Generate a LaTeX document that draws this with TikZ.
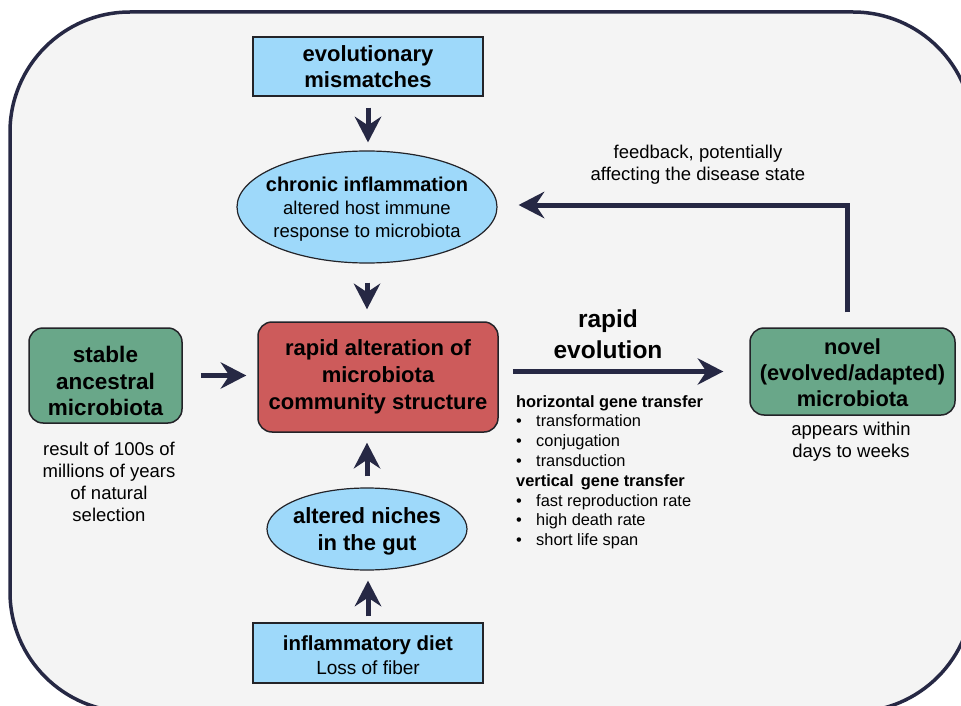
\documentclass[tikz,border=0pt]{standalone}
\usepackage{fontspec}
\setmainfont{Liberation Sans}
\usetikzlibrary{arrows.meta,shapes.geometric}
\definecolor{navy}{RGB}{38,40,68}
\definecolor{bgfill}{RGB}{244,244,244}
\definecolor{bluefill}{RGB}{158,217,250}
\definecolor{redfill}{RGB}{205,91,91}
\definecolor{greenfill}{RGB}{105,167,137}
\definecolor{boxline}{RGB}{35,35,40}
\begin{document}
\begin{tikzpicture}[x=1pt,y=-1pt,
  bluebox/.style={draw=boxline, line width=1.2pt, fill=bluefill, minimum width=230pt, minimum height=59pt, inner sep=0pt, align=center},
  ellipsebox/.style={ellipse, draw=boxline, line width=1.2pt, fill=bluefill, inner sep=0pt},
  roundbox/.style={draw=boxline, line width=1.5pt, rounded corners=14pt, inner sep=0pt},
  boxtext/.style={align=center, inner sep=0pt, font=\fontsize{22}{27}\selectfont\bfseries},
  note/.style={align=center, inner sep=0pt, font=\fontsize{18.5}{22}\selectfont},
  arr/.style={draw=navy, line width=5pt, -{Stealth[length=26pt,width=27pt,inset=9pt,line width=0pt]}}
]
\useasboundingbox (0,0) rectangle (961,706);
\fill[white] (0,0) rectangle (961,706);
\begin{scope}
\clip (0,0) rectangle (961,706);
\draw[line width=3.5pt, draw=navy, fill=bgfill, rounded corners=120pt] (10,12) rectangle (973,712);
\end{scope}

% top box
\node[bluebox, font=\fontsize{22}{26}\selectfont\bfseries] (evo) at (368,66.5) {evolutionary\\mismatches};

% chronic inflammation ellipse
\node[ellipsebox, minimum width=260pt, minimum height=112pt] (chronic) at (367,207) {};
\node[align=center, inner sep=0pt, font=\fontsize{18.5}{23}\selectfont] (chronictxt) at (367,209)
  {{\fontsize{20}{23}\selectfont\bfseries chronic inflammation}\\altered host immune\\response to microbiota};

% red box
\node[roundbox, fill=redfill, minimum width=240pt, minimum height=110pt] (red) at (378,377) {};
\node[boxtext] (redtxt) at (378,377) {rapid alteration of\\microbiota\\community structure};

% stable
\node[roundbox, fill=greenfill, minimum width=153pt, minimum height=95pt] (stable) at (105.5,375.5) {};
\node[boxtext, font=\fontsize{22.5}{26.5}\selectfont\bfseries] (stabletxt) at (105.5,381) {stable\\ancestral\\microbiota};
\node[note] (stablenote) at (109,482) {result of 100s of\\millions of years\\of natural\\selection};

% novel
\node[roundbox, fill=greenfill, minimum width=205pt, minimum height=87pt] (novel) at (852.5,371.5) {};
\node[boxtext, font=\fontsize{21.8}{26}\selectfont\bfseries] (noveltxt) at (852.5,372.5) {novel\\(evolved/adapted)\\microbiota};
\node[note] (novelnote) at (851,442) {appears within\\days to weeks};

% niches ellipse
\node[ellipsebox, minimum width=200pt, minimum height=82pt] (niches) at (367,529) {};
\node[boxtext, font=\fontsize{22}{27}\selectfont\bfseries] (nichestxt) at (367,531) {altered niches\\in the gut};

% diet box
\node[bluebox, minimum height=60pt] (diet) at (368,653) {};
\node[align=center, inner sep=0pt, font=\fontsize{19}{24}\selectfont] (diettxt) at (368,655)
  {{\fontsize{20.4}{24}\selectfont\bfseries inflammatory diet}\\Loss of fiber};

% rapid evolution
\node[boxtext, font=\fontsize{24.5}{31}\selectfont\bfseries] (rapid) at (608,334) {rapid\\evolution};

% feedback text
\node[note] (fbtxt) at (698,165) {feedback, potentially\\affecting the disease state};

% gene transfer list
\node[anchor=north west, align=left, inner sep=0pt, font=\fontsize{16.4}{19.8}\selectfont] (genes) at (516,395)
  {\textbf{horizontal gene transfer}\\
   \makebox[20pt][l]{•}transformation\\
   \makebox[20pt][l]{•}conjugation\\
   \makebox[20pt][l]{•}transduction\\
   \textbf{vertical\,\ gene transfer}\\
   \makebox[20pt][l]{•}fast reproduction rate\\
   \makebox[20pt][l]{•}high death rate\\
   \makebox[20pt][l]{•}short life span};

% arrows
\draw[arr, shorten <=11pt, shorten >=8pt] (evo.south) -- (evo.south |- chronic.north);
\draw[arr, shorten <=19pt, shorten >=12pt] (chronic.south) -- (chronic.south |- red.north);
\draw[arr, shorten <=11pt, shorten >=10pt] (niches.north) -- (niches.north |- red.south);
\draw[arr, shorten <=6pt, shorten >=10pt] (diet.north) -- (diet.north |- niches.south);
\draw[arr, shorten <=18pt, shorten >=11pt] (stable.east) -- (stable.east -| red.west);
\draw[arr, shorten <=14pt, shorten >=26pt] (red.east |- novel.west) -- (novel.west);
\coordinate (fbtop) at (847,205);
\draw[arr, line join=miter, shorten <=15pt, shorten >=21pt] (novel.north -| fbtop) -- (fbtop) -- (chronic.east |- fbtop);
\end{tikzpicture}
\end{document}
